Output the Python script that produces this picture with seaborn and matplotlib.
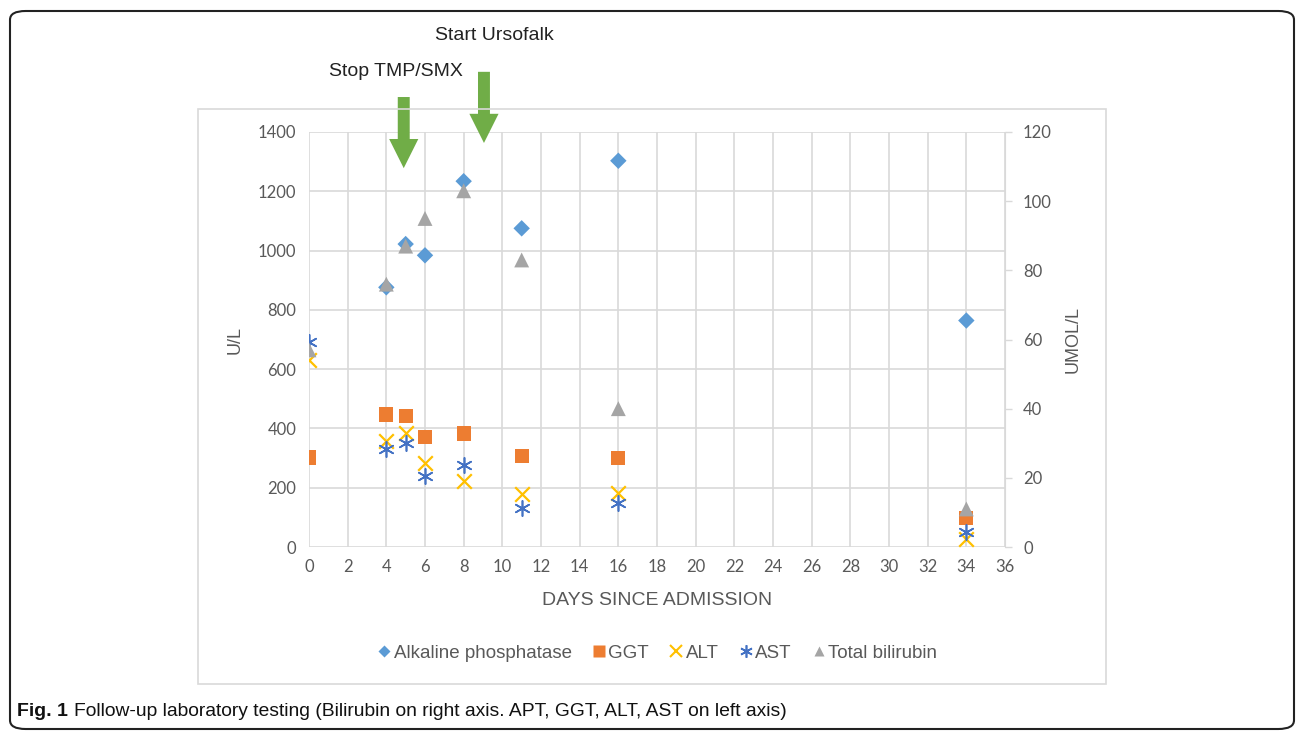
import pandas as pd
import seaborn as sns
import matplotlib.pyplot as plt
from matplotlib.patches import FancyBboxPatch, Rectangle
from matplotlib.lines import Line2D

# Values (day since admission)
days_alp = [4, 5, 6, 8, 11, 16, 34]
alp = [876, 1022, 984, 1234, 1075, 1303, 764]

days_lab = [0, 4, 5, 6, 8, 11, 16, 34]
ggt = [302, 447, 441, 371, 383, 306, 300, 98]
alt = [630, 358, 383, 285, 224, 180, 182, 28]
ast = [693, 332, 350, 238, 277, 133, 147, 52]
bilirubin = [57, 76, 87, 95, 103, 83, 40, 11]  # umol/L, right axis

x_ticks = list(range(0, 37, 2))
left_ticks = list(range(0, 1401, 200))
right_ticks = list(range(0, 121, 20))

events = ["Stop TMP/SMX", "Start Ursofalk"]
event_days = [4.9, 9.05]

c_alp, c_ggt, c_alt, c_ast, c_bil = "#5B9BD5", "#ED7D31", "#FFC000", "#4472C4", "#A5A5A5"
green = "#70AD47"
tick_col = "#595959"

sns.set_style("white")
plt.rcParams['font.family'] = ['Liberation Sans', 'DejaVu Sans']

fig = plt.figure(figsize=(12.96, 7.31), dpi=100)
ax = fig.add_axes([309 / 1296, 1 - 547 / 731, 696 / 1296, 415 / 731])
ax2 = ax.twinx()

df_alp = pd.DataFrame({"day": days_alp, "val": alp})
df_lab = pd.DataFrame({"day": days_lab, "ggt": ggt, "alt": alt, "ast": ast, "bil": bilirubin})

sns.scatterplot(data=df_alp, x="day", y="val", ax=ax, marker="D", s=70, color=c_alp,
                edgecolor="none", zorder=3)
sns.scatterplot(data=df_lab, x="day", y="ggt", ax=ax, marker="s", s=105, color=c_ggt,
                edgecolor="none", zorder=3)
sns.scatterplot(data=df_lab, x="day", y="alt", ax=ax, marker="x", s=110, color=c_alt,
                linewidth=1.6, zorder=3)
sns.scatterplot(data=df_lab, x="day", y="ast", ax=ax, marker=(6, 2, 0), s=120, color=c_ast,
                linewidth=1.2, zorder=4)
sns.scatterplot(data=df_lab, x="day", y="bil", ax=ax2, marker="^", s=115, color=c_bil,
                edgecolor="none", zorder=3)

ax.set_xlim(0, 36)
ax.set_ylim(0, 1400)
ax2.set_ylim(0, 120)
ax.set_xticks(x_ticks)
ax.set_yticks(left_ticks)
ax2.set_yticks(right_ticks)

ax.grid(True, color="#D9D9D9", linewidth=1.2)
ax2.grid(False)
for a in (ax, ax2):
    for s in a.spines.values():
        s.set_visible(False)
ax.set_axisbelow(True)

ax.tick_params(axis="both", length=0, pad=9, labelcolor=tick_col)
ax2.tick_params(axis="y", length=5, width=1, color="#D9D9D9", pad=8, labelcolor=tick_col)
for lab in ax.get_xticklabels() + ax.get_yticklabels() + ax2.get_yticklabels():
    lab.set_fontfamily(['Lato', 'DejaVu Sans'])
    lab.set_fontsize(12)
ax2.spines["right"].set_visible(True)
ax2.spines["right"].set_color("#D9D9D9")

ax.set_xlabel("DAYS SINCE ADMISSION", fontsize=14, color=tick_col, labelpad=12)
ax.set_ylabel("U/L", fontsize=13, color=tick_col, labelpad=10)
ax2.set_ylabel("UMOL/L", fontsize=13, color=tick_col, labelpad=9)

# Event arrows above the plot area
arrow_tops = [1518, 1603]
arrow_tips = [1278, 1363]
text_pos = [(4.5, 1603), (9.57, 1725)]
for d, top, tip, name, (tx, ty) in zip(event_days, arrow_tops, arrow_tips, events, text_pos):
    ax.annotate("", xy=(d, tip), xytext=(d, top), annotation_clip=False,
                arrowprops=dict(width=8.6, headwidth=21, headlength=21, color=green, lw=0))
    ax.text(tx, ty, name, ha="center", va="center", fontsize=14, color="#222222", clip_on=False)

handles = [
    Line2D([], [], ls="", marker="D", ms=6, color=c_alp, mec="none"),
    Line2D([], [], ls="", marker="s", ms=8, color=c_ggt, mec="none"),
    Line2D([], [], ls="", marker="x", ms=9, color=c_alt, mew=1.5),
    Line2D([], [], ls="", marker=(6, 2, 0), ms=9, color=c_ast, mew=1.2),
    Line2D([], [], ls="", marker="^", ms=7, color=c_bil, mec="none"),
]
labels = ["Alkaline phosphatase", "GGT", "ALT", "AST", "Total bilirubin"]
fig.legend(handles, labels, loc="center", bbox_to_anchor=(657 / 1296, 1 - 653 / 731), ncol=5,
           frameon=False, fontsize=13.5, handletextpad=0.1, columnspacing=1.05,
           labelcolor=tick_col, handlelength=0.8)

# chart border and outer panel
fig.patches.append(Rectangle((198 / 1296, 1 - 684 / 731), 908 / 1296, 575 / 731,
                             transform=fig.transFigure, fill=False, ec="#D9D9D9", lw=1.2))
fig.patches.append(FancyBboxPatch((10 / 1296, 1 - 729 / 731), 1284 / 1296, 718 / 731,
                                  boxstyle="round,pad=0,rounding_size=0.012",
                                  transform=fig.transFigure, fill=False, ec="#222222", lw=1.5))

fig.text(17 / 1296, 1 - 711 / 731, "Fig. 1", fontsize=14, fontweight="bold", va="center",
         color="#111111")
fig.text(74 / 1296, 1 - 711 / 731,
         "Follow-up laboratory testing (Bilirubin on right axis. APT, GGT, ALT, AST on left axis)",
         fontsize=13.9, va="center", color="#111111")

fig.savefig("out.png", dpi=100)
